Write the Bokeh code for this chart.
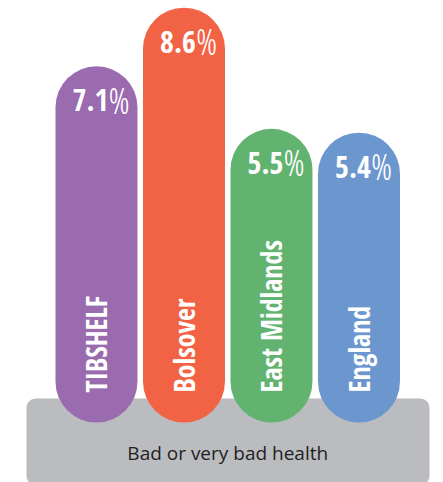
from bokeh.plotting import figure
from bokeh.models import Range1d, ColumnDataSource
from bokeh.core.properties import value
from bokeh.embed import file_html
from bokeh.resources import INLINE
import math

# ---- data ----
categories = ["TIBSHELF", "Bolsover", "East Midlands", "England"]
values = [7.1, 8.6, 5.5, 5.4]
value_labels = ["7.1", "8.6", "5.5", "5.4"]
colors = ["#9A6BAE", "#F26345", "#63B370", "#6B96CE"]
base_label = "Bad or very bad health"

# ---- layout constants ----
BASE = -2.02          # value at which the pills start
COND = "Open Sans Condensed"
LIGHT = "Open Sans Condensed Light, Roboto Condensed Light, Roboto Condensed"
xs = list(range(len(categories)))

p = figure(width=443, height=482, output_backend="svg", toolbar_location=None,
           x_range=Range1d(-1.097, 3.966), y_range=Range1d(-3.556, 8.784),
           min_border=0, min_border_left=0, min_border_right=0,
           min_border_top=0, min_border_bottom=0)
p.axis.visible = False
p.grid.visible = False
p.outline_line_color = None
p.background_fill_color = "white"
p.border_fill_color = "white"

# grey base panel
p.quad(left=[-0.8], right=[3.806], top=[-1.406], bottom=[-3.62],
       fill_color="#BBBCC0", line_color=None, border_radius=9)
p.text(x=[1.5], y=[-2.79], text=[base_label], text_align="center",
       text_baseline="middle", text_color="#231F20",
       text_font=value("Open Sans"), text_font_size="19px")

src = ColumnDataSource(dict(x=xs, top=values, col=colors, cat=categories,
                            lab=value_labels, pct=["%"] * len(values),
                            base=[BASE] * len(values)))

p.vbar(x="x", top="top", bottom="base", width=0.937, fill_color="col",
       line_color=None, border_radius=41, source=src)

# value labels
p.text(x="x", y="top", text="lab", source=src, text_align="right",
       text_baseline="alphabetic", x_offset=12, y_offset=34,
       text_color="white", text_font=value(COND),
       text_font_style="bold", text_font_size="30px")
p.text(x="x", y="top", text="pct", source=src, text_align="left",
       text_baseline="alphabetic", x_offset=12, y_offset=34,
       text_color="white", text_font=value(LIGHT),
       text_font_style="normal", text_font_size="36px")

# category labels, rotated
p.text(x="x", y="base", text="cat", source=src, angle=math.pi / 2,
       text_align="left", text_baseline="middle", y_offset=-30,
       text_color="white", text_font=value(COND),
       text_font_style="bold", text_font_size="28px")

open("out.html", "w").write(file_html(p, INLINE))
